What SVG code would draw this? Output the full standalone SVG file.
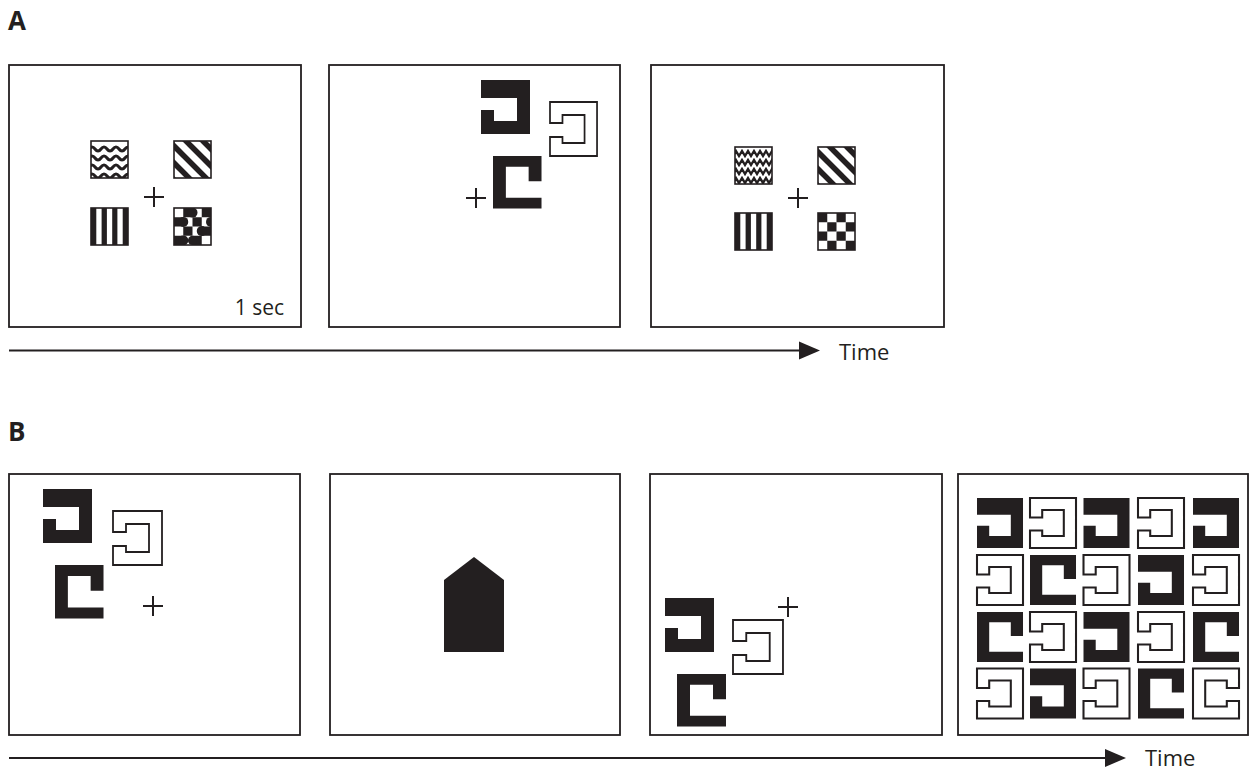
<svg xmlns="http://www.w3.org/2000/svg" xmlns:xlink="http://www.w3.org/1999/xlink" width="1252" height="771" viewBox="0 0 1252 771">
<style>
.box{fill:#fff;stroke:#231f20;stroke-width:1.8}
.blk{fill:#231f20}
.ol{fill:#fff;stroke:#231f20;stroke-width:1.8;stroke-linejoin:miter}
.olg{fill:#fff;stroke:#231f20;stroke-width:2.2;stroke-linejoin:miter}
.cross{stroke:#231f20;stroke-width:2;fill:none}
.axis{stroke:#231f20;stroke-width:1.8;fill:none}
.lbl{font-family:"Open Sans","Liberation Sans",sans-serif;font-weight:bold;font-size:26px;fill:#231f20}
.txt{font-family:"Open Sans","Liberation Sans",sans-serif;font-size:21px;fill:#231f20}
.sqb{fill:none;stroke:#231f20;stroke-width:1.6}
</style>
<defs>
<clipPath id="sq"><rect x="0" y="0" width="37" height="37"/></clipPath>
<path id="BR" d="M0,0 H49 V26 H36 V11 H13 V43 H49 V54 H0 Z"/>
<path id="BL" d="M0,0 H49 V54 H0 V30 H13 V41 H36 V18 H0 Z"/>
<path id="OL" d="M0,0 H49 V54 H0 V35 H13 V41 H36 V13 H13 V21 H0 Z"/>
<path id="OR" d="M49,0 H0 V54 H49 V35 H36 V41 H13 V13 H36 V21 H49 Z"/>
<g id="wave">
<rect width="37" height="37" fill="#fff"/>
<g clip-path="url(#sq)" fill="none" stroke="#231f20" stroke-width="3">
<path d="M-2,8 q3,-4 6,0 t6,0 t6,0 t6,0 t6,0 t6,0 t6,0"/>
<path d="M-2,17 q3,-4 6,0 t6,0 t6,0 t6,0 t6,0 t6,0 t6,0"/>
<path d="M-2,26 q3,-4 6,0 t6,0 t6,0 t6,0 t6,0 t6,0 t6,0"/>
<path d="M-2,35 q3,-4 6,0 t6,0 t6,0 t6,0 t6,0 t6,0 t6,0"/>
</g>
<rect width="37" height="37" class="sqb"/>
</g>
<g id="zig">
<rect width="37" height="37" fill="#fff"/>
<g clip-path="url(#sq)" fill="none" stroke="#231f20" stroke-width="2.4">
<path d="M-2,9 l3,-5 l3,5 l3,-5 l3,5 l3,-5 l3,5 l3,-5 l3,5 l3,-5 l3,5 l3,-5 l3,5 l3,-5 l3,5"/>
<path d="M-2,18 l3,-5 l3,5 l3,-5 l3,5 l3,-5 l3,5 l3,-5 l3,5 l3,-5 l3,5 l3,-5 l3,5 l3,-5 l3,5"/>
<path d="M-2,27 l3,-5 l3,5 l3,-5 l3,5 l3,-5 l3,5 l3,-5 l3,5 l3,-5 l3,5 l3,-5 l3,5 l3,-5 l3,5"/>
<path d="M-2,36 l3,-5 l3,5 l3,-5 l3,5 l3,-5 l3,5 l3,-5 l3,5 l3,-5 l3,5 l3,-5 l3,5 l3,-5 l3,5"/>
</g>
<rect width="37" height="37" class="sqb"/>
</g>
<g id="diag">
<rect width="37" height="37" fill="#fff"/>
<g clip-path="url(#sq)" stroke="#231f20" stroke-width="5.5">
<line x1="24" y1="-5" x2="71" y2="42"/>
<line x1="7" y1="-5" x2="54" y2="42"/>
<line x1="-10" y1="-5" x2="37" y2="42"/>
<line x1="-27" y1="-5" x2="20" y2="42"/>
<line x1="-44" y1="-5" x2="3" y2="42"/>
</g>
<rect width="37" height="37" class="sqb"/>
</g>
<g id="vstr">
<rect width="37" height="37" fill="#231f20"/>
<rect x="5.3" y="0" width="5.3" height="37" fill="#fff"/>
<rect x="15.9" y="0" width="5.3" height="37" fill="#fff"/>
<rect x="26.4" y="0" width="5.3" height="37" fill="#fff"/>
<rect width="37" height="37" class="sqb"/>
</g>
<g id="check">
<rect width="37" height="37" fill="#fff"/>
<g fill="#231f20">
<rect x="0" y="0" width="9.25" height="9.25"/><rect x="18.5" y="0" width="9.25" height="9.25"/>
<rect x="9.25" y="9.25" width="9.25" height="9.25"/><rect x="27.75" y="9.25" width="9.25" height="9.25"/>
<rect x="0" y="18.5" width="9.25" height="9.25"/><rect x="18.5" y="18.5" width="9.25" height="9.25"/>
<rect x="9.25" y="27.75" width="9.25" height="9.25"/><rect x="27.75" y="27.75" width="9.25" height="9.25"/>
</g>
<rect width="37" height="37" class="sqb"/>
</g>
<g id="blob">
<rect width="37" height="37" fill="#fff"/>
<g clip-path="url(#sq)" fill="#231f20">
<rect x="9.25" y="0" width="9.25" height="9.25"/><rect x="27.75" y="0" width="9.25" height="9.25"/>
<rect x="0" y="9.25" width="9.25" height="9.25"/><rect x="18.5" y="9.25" width="9.25" height="9.25"/>
<rect x="9.25" y="18.5" width="9.25" height="9.25"/><rect x="27.75" y="18.5" width="9.25" height="9.25"/>
<rect x="0" y="27.75" width="9.25" height="9.25"/><rect x="18.5" y="27.75" width="9.25" height="9.25"/>
<circle cx="18.5" cy="4.6" r="5"/><circle cx="9.25" cy="13.9" r="5"/><circle cx="27.75" cy="23.1" r="5"/>
<circle cx="9.25" cy="32.4" r="5"/><circle cx="37" cy="13.9" r="5"/><circle cx="18.5" cy="32.4" r="4.6"/>
</g>
<rect width="37" height="37" class="sqb"/>
</g>
</defs>

<text class="lbl" x="8" y="30">A</text>
<text class="lbl" x="8" y="441">B</text>

<g id="panelA1">
<rect class="box" x="9" y="65" width="292" height="262"/>
<use xlink:href="#wave" x="91" y="141"/>
<use xlink:href="#diag" x="174" y="141"/>
<use xlink:href="#vstr" x="91" y="208"/>
<use xlink:href="#blob" x="174" y="208"/>
<path class="cross" d="M144,197 h20 M154,187 v20"/>
<text class="txt" x="284" y="315" text-anchor="end">1 sec</text>
</g>

<g id="panelA2">
<rect class="box" x="329" y="65" width="291" height="262"/>
<use xlink:href="#BL" class="blk" transform="translate(481,80)"/>
<use xlink:href="#OL" class="ol" transform="translate(550,102) scale(0.96,1)"/>
<use xlink:href="#BR" class="blk" transform="translate(493,156) scale(0.99,0.97)"/>
<path class="cross" d="M466,198 h20 M476,188 v20"/>
</g>

<g id="panelA3">
<rect class="box" x="651" y="65" width="293" height="262"/>
<use xlink:href="#zig" x="735" y="147"/>
<use xlink:href="#diag" x="818" y="147"/>
<use xlink:href="#vstr" x="735" y="213"/>
<use xlink:href="#check" x="818" y="213"/>
<path class="cross" d="M788,198 h20 M798,188 v20"/>
</g>

<g id="panelB1">
<rect class="box" x="9" y="474" width="291" height="261"/>
<use xlink:href="#BL" class="blk" transform="translate(43,489)"/>
<use xlink:href="#OL" class="ol" transform="translate(113,511)"/>
<use xlink:href="#BR" class="blk" transform="translate(55,565) scale(0.99,0.99)"/>
<path class="cross" d="M143,606 h20 M153,596 v20"/>
</g>

<g id="panelB2">
<rect class="box" x="330" y="474" width="290" height="261"/>
<polygon class="blk" points="444,580 474,557 504,580 504,652 444,652"/>
</g>

<g id="panelB3">
<rect class="box" x="650" y="474" width="292" height="261"/>
<use xlink:href="#BL" class="blk" transform="translate(665,598)"/>
<use xlink:href="#OL" class="ol" transform="translate(733,620) scale(1.02,1)"/>
<use xlink:href="#BR" class="blk" transform="translate(677,674) scale(1,0.97)"/>
<path class="cross" d="M778,607 h20 M788,597 v20"/>
</g>

<g id="panelB4">
<rect class="box" x="958" y="474" width="290" height="261"/>
<g id="grid">
<use xlink:href="#BL" class="blk" transform="translate(977,498) scale(0.939,0.926)"/>
<use xlink:href="#OL" class="olg" transform="translate(1030,498) scale(0.939,0.926)"/>
<use xlink:href="#BL" class="blk" transform="translate(1083.5,498) scale(0.939,0.926)"/>
<use xlink:href="#OL" class="olg" transform="translate(1138,498) scale(0.939,0.926)"/>
<use xlink:href="#BL" class="blk" transform="translate(1193,498) scale(0.939,0.926)"/>
<use xlink:href="#OL" class="olg" transform="translate(977,555) scale(0.939,0.926)"/>
<use xlink:href="#BR" class="blk" transform="translate(1030,555) scale(0.939,0.926)"/>
<use xlink:href="#OL" class="olg" transform="translate(1083.5,555) scale(0.939,0.926)"/>
<use xlink:href="#BL" class="blk" transform="translate(1138,555) scale(0.939,0.926)"/>
<use xlink:href="#OL" class="olg" transform="translate(1193,555) scale(0.939,0.926)"/>
<use xlink:href="#BR" class="blk" transform="translate(977,612) scale(0.939,0.926)"/>
<use xlink:href="#OL" class="olg" transform="translate(1030,612) scale(0.939,0.926)"/>
<use xlink:href="#BL" class="blk" transform="translate(1083.5,612) scale(0.939,0.926)"/>
<use xlink:href="#OL" class="olg" transform="translate(1138,612) scale(0.939,0.926)"/>
<use xlink:href="#BR" class="blk" transform="translate(1193,612) scale(0.939,0.926)"/>
<use xlink:href="#OL" class="olg" transform="translate(977,668.5) scale(0.939,0.926)"/>
<use xlink:href="#BL" class="blk" transform="translate(1030,668.5) scale(0.939,0.926)"/>
<use xlink:href="#OL" class="olg" transform="translate(1083.5,668.5) scale(0.939,0.926)"/>
<use xlink:href="#BR" class="blk" transform="translate(1138,668.5) scale(0.939,0.926)"/>
<use xlink:href="#OR" class="olg" transform="translate(1193,668.5) scale(0.939,0.926)"/>
</g>
</g>

<g id="connectors">
<line class="axis" x1="9" y1="350.5" x2="802" y2="350.5"/>
<polygon class="blk" points="799,341.5 820,350.5 799,359.5"/>
<line class="axis" x1="9" y1="758" x2="1108" y2="758"/>
<polygon class="blk" points="1105,749 1126,758 1105,767"/>
</g>
<text class="txt" x="839" y="359.5" style="font-size:22px">Time</text>
<text class="txt" x="1145" y="766" style="font-size:22px">Time</text>
</svg>
